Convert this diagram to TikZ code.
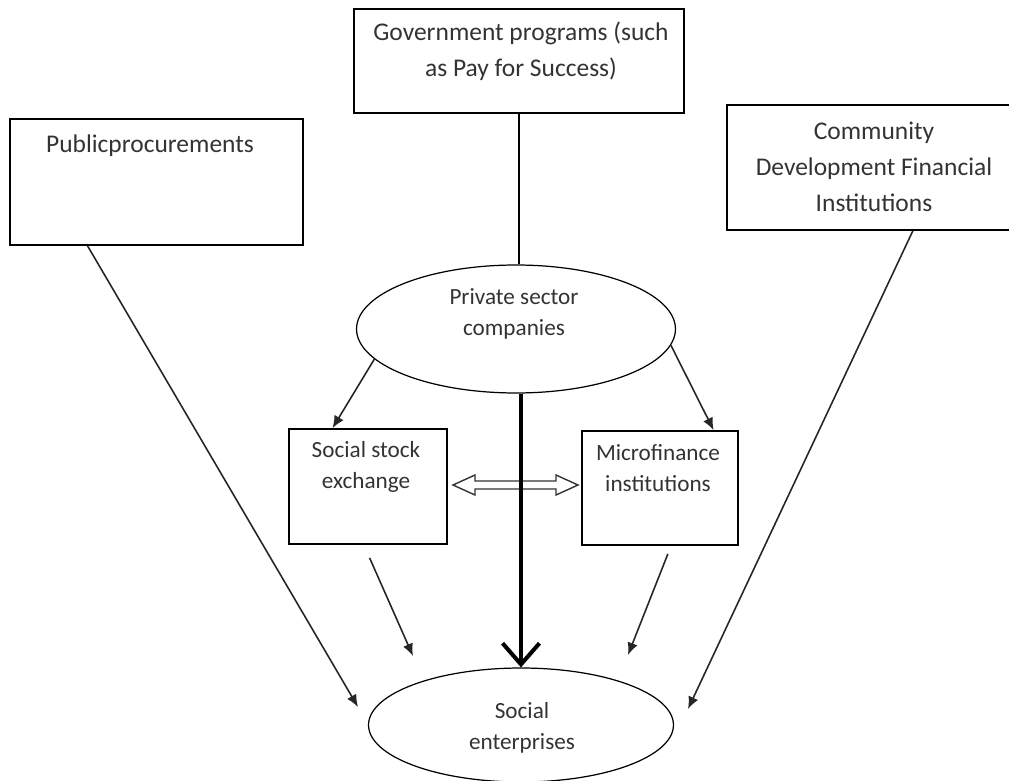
\documentclass[tikz,border=0pt]{standalone}
\usepackage{fontspec}
\setmainfont{Carlito}
\usepackage{tikz}
\usetikzlibrary{arrows.meta,positioning,calc,shapes.geometric}

\begin{document}
\begin{tikzpicture}[x=0.02cm,y=-0.02cm,
  box/.style={draw,line width=1pt,inner sep=0pt},
  oval/.style={draw,ellipse,line width=0.7pt,inner sep=0pt},
  big/.style={font=\fontsize{14.5}{20.4}\selectfont,align=center,text=black!80},
  small/.style={font=\fontsize{13.2}{17.5}\selectfont,align=center,text=black!80},
  thin/.style={-{Latex[length=7pt,width=6pt]},line width=0.9pt,draw=black!85}]
  \useasboundingbox (0,0) rectangle (1009,781);
  % boxes and ovals
  \node[box,minimum width=6.6cm,minimum height=2.08cm] (gov) at (519,61) {};
  \node[big] (govtxt) at (521,51) {Government programs (such\\as Pay for Success)};
  \node[box,minimum width=5.86cm,minimum height=2.52cm] (pp) at (156.5,182) {};
  \node[big] (pptxt) at (150,146) {Publicprocurements};
  \node[box,minimum width=5.8cm,minimum height=2.5cm] (cdfi) at (872,167.5) {};
  \node[big] (cdfitxt) at (874,167) {Community\\Development Financial\\Institutions};
  \node[oval,minimum width=6.38cm,minimum height=2.56cm] (psc) at (516,329) {};
  \node[small] (psctxt) at (514,314) {Private sector\\companies};
  \node[box,minimum width=3.16cm,minimum height=2.3cm] (sse) at (368,486.5) {};
  \node[small] (ssetxt) at (366,467) {Social stock\\exchange};
  \node[box,minimum width=3.12cm,minimum height=2.28cm] (mfi) at (660,488) {};
  \node[small] (mfitxt) at (658,468) {Microfinance\\institutions};
  \node[oval,minimum width=6.1cm,minimum height=2.28cm] (se) at (521,725) {};
  \node[small] (setxt) at (522,728) {Social\\enterprises};
  % free arrow tips
  \coordinate (pptip) at (358,707);
  \coordinate (cdfitip) at (688,709);
  \coordinate (ssetip) at (413,656);
  \coordinate (mfitip) at (628,655);
  \coordinate (dl) at (453,485);
  \coordinate (dr) at (578,485);
  % connectors
  \draw[line width=1pt] (gov.south) -- (gov.south |- psc.north);
  \draw[thin] ($(pp.south west)!0.266!(pp.south east)$) -- (pptip);
  \draw[thin] ($(cdfi.south west)!0.64!(cdfi.south east)$) -- (cdfitip);
  \draw[thin] (psc.192.4) -- ($(sse.north west)!0.278!(sse.north east)$);
  \draw[thin] (psc.354) -- ($(mfi.north west)!0.84!(mfi.north east)$);
  \draw[thin] ($(sse.south west)!0.51!(sse.south east)+(0,13)$) -- (ssetip);
  \draw[thin] ($(mfi.south west)!0.55!(mfi.south east)+(0,8)$) -- (mfitip);
  \draw[line width=0.8pt,draw=black!80,fill=white] (dl) -- ++(22,-10) -- ++(0,6)
    -- ($(dr)+(-22,-4)$) -- ++(0,-6) -- (dr) -- ++(-22,10) -- ++(0,-6)
    -- ($(dl)+(22,4)$) -- ++(0,6) -- cycle;
  \draw[line width=2.3pt,-{Straight Barb[length=12pt,width=21pt]}] (se.north |- psc.south) -- (se.north);
\end{tikzpicture}
\end{document}
